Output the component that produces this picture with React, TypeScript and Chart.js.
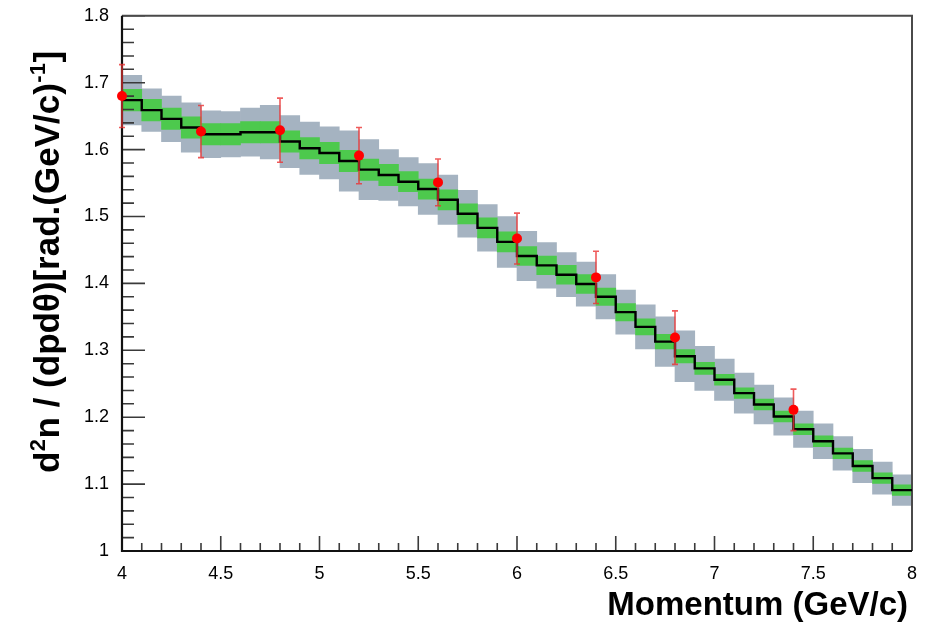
import React, { useEffect, useRef } from 'react';
import { Chart, registerables } from 'chart.js';

Chart.register(...registerables);

// ---- data ----
const binLow = [4.0, 4.1, 4.2, 4.3, 4.4, 4.5, 4.6, 4.7, 4.8, 4.9, 5.0, 5.1, 5.2, 5.3, 5.4, 5.5, 5.6, 5.7, 5.8, 5.9,
  6.0, 6.1, 6.2, 6.3, 6.4, 6.5, 6.6, 6.7, 6.8, 6.9, 7.0, 7.1, 7.2, 7.3, 7.4, 7.5, 7.6, 7.7, 7.8, 7.9];
const binWidth = 0.1;
const binValues = [1.674, 1.659, 1.646, 1.633, 1.623, 1.623, 1.626, 1.626, 1.612, 1.602,
  1.595, 1.583, 1.570, 1.562, 1.552, 1.541, 1.525, 1.504, 1.483, 1.462,
  1.441, 1.427, 1.413, 1.399, 1.380, 1.357, 1.335, 1.313, 1.291, 1.273,
  1.256, 1.236, 1.219, 1.201, 1.182, 1.164, 1.146, 1.127, 1.109, 1.091];
const grayErr = [0.037, 0.032, 0.034, 0.037, 0.035, 0.034, 0.036, 0.040, 0.039, 0.039,
  0.039, 0.045, 0.045, 0.038, 0.036, 0.038, 0.037, 0.035, 0.035, 0.038,
  0.037, 0.034, 0.033, 0.033, 0.033, 0.033, 0.033, 0.037, 0.038, 0.033,
  0.031, 0.030, 0.029, 0.028, 0.027, 0.026, 0.025, 0.025, 0.024, 0.023];
const greenErr = [0.016, 0.016, 0.016, 0.016, 0.016, 0.016, 0.016, 0.016, 0.016, 0.016,
  0.016, 0.016, 0.016, 0.016, 0.015, 0.015, 0.015, 0.015, 0.015, 0.015,
  0.014, 0.014, 0.014, 0.014, 0.013, 0.013, 0.012, 0.011, 0.010, 0.009,
  0.008, 0.008, 0.008, 0.008, 0.008, 0.008, 0.008, 0.008, 0.008, 0.008];
const pointX = [4.0, 4.4, 4.8, 5.2, 5.6, 6.0, 6.4, 6.8, 7.4];
const pointY = [1.680, 1.627, 1.629, 1.591, 1.551, 1.467, 1.409, 1.319, 1.211];
const pointErr = [0.047, 0.039, 0.048, 0.042, 0.035, 0.038, 0.039, 0.040, 0.031];

const xMin = 4, xMax = 8, xMajor = 0.5, xMinor = 0.1;
const yMin = 1, yMax = 1.8, yMajor = 0.1, yMinor = 0.02;
const xTitle = 'Momentum (GeV/c)';
const yTitleParts = [
  { t: 'd', sup: false },
  { t: '2', sup: true },
  { t: 'n / (dpd\u03b8)[rad.(GeV/c)', sup: false },
  { t: '-1', sup: true },
  { t: ']', sup: false },
];

const FONT = '"Liberation Sans", Arial, Helvetica, sans-serif';
const GRAY = '#a5b3c1';
const GREEN = '#4dc94d';

function drawAxes(chart: any) {
  const { ctx, chartArea } = chart;
  const xs = chart.scales.x;
  const ys = chart.scales.y;
  const { left, right, top, bottom } = chartArea;
  ctx.save();
  ctx.strokeStyle = '#3a3a3a';
  ctx.lineWidth = 1.6;
  ctx.beginPath();
  const nY = Math.round((yMax - yMin) / yMinor);
  for (let i = 0; i <= nY; i++) {
    const v = yMin + i * yMinor;
    const py = ys.getPixelForValue(v);
    const major = i % Math.round(yMajor / yMinor) === 0;
    const len = major ? 23 : 12;
    ctx.moveTo(left, py);
    ctx.lineTo(left + len, py);
  }
  const nX = Math.round((xMax - xMin) / xMinor);
  for (let i = 0; i <= nX; i++) {
    const v = xMin + i * xMinor;
    const px = xs.getPixelForValue(v);
    const major = i % Math.round(xMajor / xMinor) === 0;
    const len = major ? 15 : 8;
    ctx.moveTo(px, bottom);
    ctx.lineTo(px, bottom - len);
  }
  ctx.stroke();
  ctx.strokeStyle = '#4a4a4a';
  ctx.lineWidth = 2;
  ctx.beginPath();
  ctx.moveTo(left, top);
  ctx.lineTo(right, top);
  ctx.lineTo(right, bottom);
  ctx.stroke();
  ctx.strokeStyle = '#111';
  ctx.lineWidth = 2.2;
  ctx.beginPath();
  ctx.moveTo(left, top);
  ctx.lineTo(left, bottom);
  ctx.lineTo(right, bottom);
  ctx.stroke();
  ctx.restore();
}

function drawErrorBars(chart: any) {
  const { ctx } = chart;
  const xs = chart.scales.x;
  const ys = chart.scales.y;
  ctx.save();
  ctx.strokeStyle = 'rgba(235,50,50,0.8)';
  ctx.lineWidth = 1.6;
  ctx.beginPath();
  for (let i = 0; i < pointX.length; i++) {
    const px = xs.getPixelForValue(pointX[i]);
    const yt = ys.getPixelForValue(pointY[i] + pointErr[i]);
    const yb = ys.getPixelForValue(pointY[i] - pointErr[i]);
    ctx.moveTo(px, yt);
    ctx.lineTo(px, yb);
    ctx.moveTo(px - 3, yt);
    ctx.lineTo(px + 3, yt);
    ctx.moveTo(px - 3, yb);
    ctx.lineTo(px + 3, yb);
  }
  ctx.stroke();
  ctx.restore();
}

function drawTitles(chart: any) {
  const { ctx, chartArea } = chart;
  ctx.save();
  ctx.fillStyle = '#000';
  ctx.textBaseline = 'alphabetic';
  ctx.font = `bold 33px ${FONT}`;
  ctx.textAlign = 'right';
  ctx.fillText(xTitle, chartArea.right - 4, 615);

  const mainFont = `bold 35px ${FONT}`;
  const supFont = `bold 22px ${FONT}`;
  let total = 0;
  const widths = yTitleParts.map((p) => {
    ctx.font = p.sup ? supFont : mainFont;
    const w = ctx.measureText(p.t).width + (p.sup ? 1 : 0);
    total += w;
    return w;
  });
  ctx.translate(59, 262);
  ctx.rotate(-Math.PI / 2);
  ctx.textAlign = 'left';
  let x = -total / 2;
  yTitleParts.forEach((p, i) => {
    ctx.font = p.sup ? supFont : mainFont;
    ctx.fillText(p.t, x + (p.sup ? 0.5 : 0), p.sup ? -14 : 0);
    x += widths[i];
  });
  ctx.restore();
}

const rootPlugin = {
  id: 'rootStyle',
  afterDatasetDraw(chart: any, args: any) {
    if (args.index === 1) drawAxes(chart);
    if (args.index === 2) drawErrorBars(chart);
  },
  afterDraw(chart: any) {
    drawTitles(chart);
  },
};

export default function App() {
  const ref = useRef<HTMLCanvasElement | null>(null);
  useEffect(() => {
    if (!ref.current) return;
    const last = binLow.length - 1;
    const lineData = binLow.map((x, i) => ({ x, y: binValues[i] }));
    lineData.push({ x: binLow[last] + binWidth, y: binValues[last] });
    const chart = new Chart(ref.current, {
      type: 'bar',
      data: {
        datasets: [
          {
            type: 'bar',
            label: 'syst',
            data: binLow.map((x, i) => ({ x: x + binWidth / 2, y: [binValues[i] - grayErr[i], binValues[i] + grayErr[i]] })) as any,
            backgroundColor: GRAY,
            borderWidth: 0,
            grouped: false,
            barPercentage: 1,
            categoryPercentage: 1,
            order: 4,
          } as any,
          {
            type: 'bar',
            label: 'stat',
            data: binLow.map((x, i) => ({ x: x + binWidth / 2, y: [binValues[i] - greenErr[i], binValues[i] + greenErr[i]] })) as any,
            backgroundColor: GREEN,
            borderWidth: 0,
            grouped: false,
            barPercentage: 1,
            categoryPercentage: 1,
            order: 3,
          } as any,
          {
            type: 'line',
            label: 'model',
            data: lineData as any,
            stepped: true,
            borderColor: '#000',
            borderWidth: 2.4,
            pointRadius: 0,
            fill: false,
            order: 2,
          } as any,
          {
            type: 'line',
            label: 'data',
            data: pointX.map((x, i) => ({ x, y: pointY[i] })) as any,
            showLine: false,
            pointRadius: 5,
            pointBackgroundColor: '#ff0000',
            pointBorderColor: '#ff0000',
            pointBorderWidth: 0,
            clip: false,
            order: 1,
          } as any,
        ],
      },
      options: {
        responsive: false,
        animation: false,
        events: [],
        layout: { padding: { top: 14, right: 21, left: 0, bottom: 0 } },
        plugins: { legend: { display: false }, tooltip: { enabled: false } },
        scales: {
          x: {
            type: 'linear',
            min: xMin,
            max: xMax,
            offset: false,
            grid: { display: false, offset: false },
            border: { display: false },
            ticks: {
              stepSize: xMajor,
              autoSkip: false,
              maxRotation: 0,
              padding: 4,
              color: '#000',
              font: { family: FONT, size: 18 },
              callback: (v: any) => String(Number(Number(v).toFixed(1))),
            },
            afterFit: (s: any) => { s.height = 75; },
          },
          y: {
            type: 'linear',
            min: yMin,
            max: yMax,
            beginAtZero: false,
            grid: { display: false },
            border: { display: false },
            ticks: {
              stepSize: yMajor,
              autoSkip: false,
              padding: 5,
              color: '#000',
              font: { family: FONT, size: 18 },
              callback: (v: any) => String(Number(Number(v).toFixed(1))),
            },
            afterFit: (s: any) => { s.width = 122; },
          },
        },
      } as any,
      plugins: [rootPlugin],
    });
    return () => chart.destroy();
  }, []);
  return (
    <div style={{ position: 'fixed', left: 0, top: 0, width: 933, height: 626, background: '#fff' }}>
      <canvas ref={ref} width={933} height={626} />
    </div>
  );
}
